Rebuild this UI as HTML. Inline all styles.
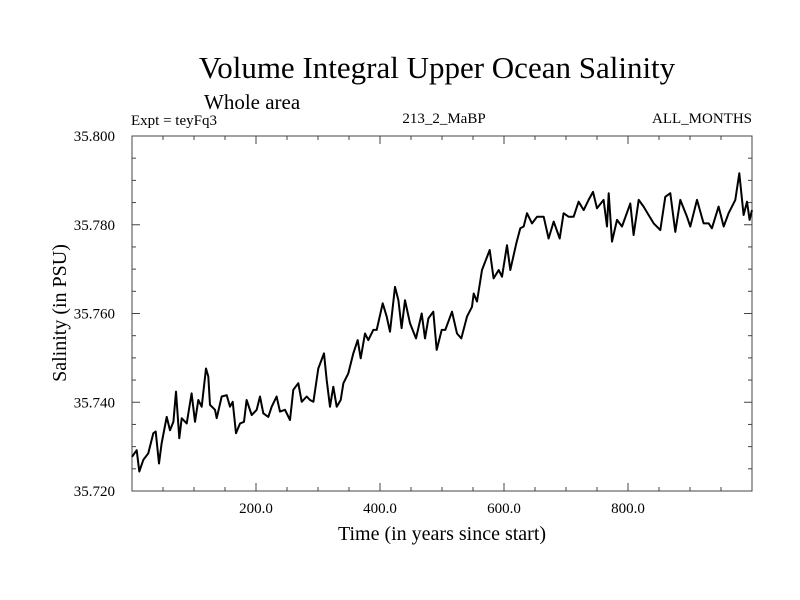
<!DOCTYPE html>
<html><head><meta charset="utf-8"><style>
body{margin:0;background:#fff;}
svg{display:block;font-family:"Liberation Serif",serif;}
</style></head><body>
<svg id="chart" width="800" height="600">
<text x="437" y="78" font-size="31" text-anchor="middle">Volume Integral Upper Ocean Salinity</text>
<text x="204" y="109" font-size="21">Whole area</text>
<text x="131" y="125" font-size="15">Expt = teyFq3</text>
<text x="444" y="123" font-size="15" text-anchor="middle">213_2_MaBP</text>
<text x="752" y="123" font-size="15" text-anchor="end">ALL_MONTHS</text>
<text x="442" y="540" font-size="20" text-anchor="middle">Time (in years since start)</text>
<text transform="translate(66,313) rotate(-90)" font-size="20" text-anchor="middle">Salinity (in PSU)</text>
<rect x="132" y="136" width="620" height="355" fill="none" stroke="#444" stroke-width="1"/>
<g id="ticks"></g>
<g id="series"></g>
</svg>
<script>
const xTicks=[200,400,600,800];
const xTickLabels=["200.0","400.0","600.0","800.0"];
const yTicks=[35.72,35.74,35.76,35.78,35.80];
const yTickLabels=["35.720","35.740","35.760","35.780","35.800"];
const years=[0,7.5,11.8,18.3,26.3,34.4,38.2,43.5,47.8,55.9,61.3,66.7,71,76.3,80.1,88.2,96.2,101.6,107,112.4,119.4,123.1,125.8,133.9,136.6,144.6,152.7,158.1,162.4,167.7,174.2,180.6,184.9,193,201.1,206.5,211.8,219.9,225.3,233.3,238.7,246.8,254.8,260.2,268.3,273.7,281.7,287.1,292.5,300.5,309.7,314,319.4,324.7,330.1,336.6,340.9,348.9,357,364,368.8,375.8,381.2,389.2,394.6,404.3,410.8,416.1,424.2,429.6,434.9,440.3,448.4,458.1,467.2,472.6,478,486,491.4,499.5,505.4,516.1,524.2,531.2,540.3,548.4,551.1,556.4,564.5,576.9,583.3,591.4,596.8,604.8,610.2,619.9,626.3,631.7,637.1,645.1,653.2,664,672,680.1,689.8,696.2,704.3,712.3,720.4,728.5,736.5,743.5,750,760.7,766.1,768.8,774.2,782.2,790.3,803.7,809.1,817.2,825.2,833.3,841.4,852.1,860.2,868.2,876.3,884.4,895.1,900.5,911.3,922,930.1,935.4,946.2,954.3,962.3,973.1,979.5,986.5,991.9,996.2,1000];
const salinity=[35.7277,35.7292,35.7244,35.727,35.7285,35.733,35.7334,35.7262,35.7307,35.7367,35.7337,35.7356,35.7424,35.7319,35.7364,35.7352,35.742,35.7356,35.7405,35.739,35.7476,35.7458,35.7394,35.7383,35.7364,35.7413,35.7416,35.739,35.7401,35.733,35.7352,35.7356,35.7405,35.7371,35.7383,35.7413,35.7375,35.7367,35.739,35.7413,35.7379,35.7383,35.736,35.7428,35.7443,35.7401,35.7413,35.7405,35.7401,35.7476,35.751,35.745,35.739,35.7435,35.739,35.7405,35.7443,35.7465,35.751,35.754,35.7499,35.7555,35.754,35.7563,35.7563,35.7623,35.7593,35.7559,35.766,35.763,35.7567,35.763,35.7578,35.7544,35.76,35.7544,35.7589,35.7604,35.7518,35.7563,35.7563,35.7604,35.7555,35.7544,35.7593,35.7615,35.7645,35.7627,35.7698,35.7743,35.7679,35.7698,35.7683,35.7754,35.7698,35.7758,35.7792,35.7796,35.7826,35.7803,35.7818,35.7818,35.7769,35.7807,35.7769,35.7826,35.7818,35.7818,35.7852,35.7833,35.7856,35.7874,35.7837,35.7856,35.7796,35.7871,35.7762,35.7811,35.7796,35.7848,35.7777,35.7856,35.7841,35.7822,35.7803,35.7788,35.7863,35.7871,35.7784,35.7856,35.7818,35.7796,35.7856,35.7803,35.7803,35.7792,35.7841,35.7796,35.7826,35.7856,35.7916,35.7822,35.7852,35.7811,35.7833];
const NS="http://www.w3.org/2000/svg";
const X0=132,X1=752,Y0=491,Y1=136;
function xs(v){return X0+(v-0)/(1000-0)*(X1-X0);}
function ys(v){return Y0-(v-35.72)/(0.08)*(Y0-Y1);}
const tg=document.getElementById('ticks');
function line(x1,y1,x2,y2){const l=document.createElementNS(NS,'line');l.setAttribute('x1',x1);l.setAttribute('y1',y1);l.setAttribute('x2',x2);l.setAttribute('y2',y2);l.setAttribute('stroke','#444');l.setAttribute('stroke-width','1');


tg.appendChild(l);}
for(let v=50;v<1000;v+=50){const x=xs(v);const big=v%200===0;const len=big?8:4;line(x,Y0,x,Y0-len);line(x,Y1,x,Y1+len);}
for(let i=1;i<16;i++){const v=35.72+i*0.005;const y=ys(v);const big=i%4===0;const len=big?8:4;line(X0,y,X0+len,y);line(X1,y,X1-len,y);}
xTicks.forEach((v,i)=>{const t=document.createElementNS(NS,'text');t.setAttribute('x',xs(v));t.setAttribute('y',513);t.setAttribute('font-size','15');t.setAttribute('text-anchor','middle');t.textContent=xTickLabels[i];


tg.appendChild(t);});
yTicks.forEach((v,i)=>{const t=document.createElementNS(NS,'text');t.setAttribute('x',115);t.setAttribute('y',ys(v)+5);t.setAttribute('font-size','15');t.setAttribute('text-anchor','end');t.textContent=yTickLabels[i];


tg.appendChild(t);});
const p=document.createElementNS(NS,'polyline');
p.setAttribute('points',years.map((y,i)=>xs(y).toFixed(1)+','+ys(salinity[i]).toFixed(1)).join(' '));
p.setAttribute('fill','none');p.setAttribute('stroke','#000');p.setAttribute('stroke-width','2');p.setAttribute('stroke-linejoin','round');


document.getElementById('series').appendChild(p);
</script>
</body></html>
